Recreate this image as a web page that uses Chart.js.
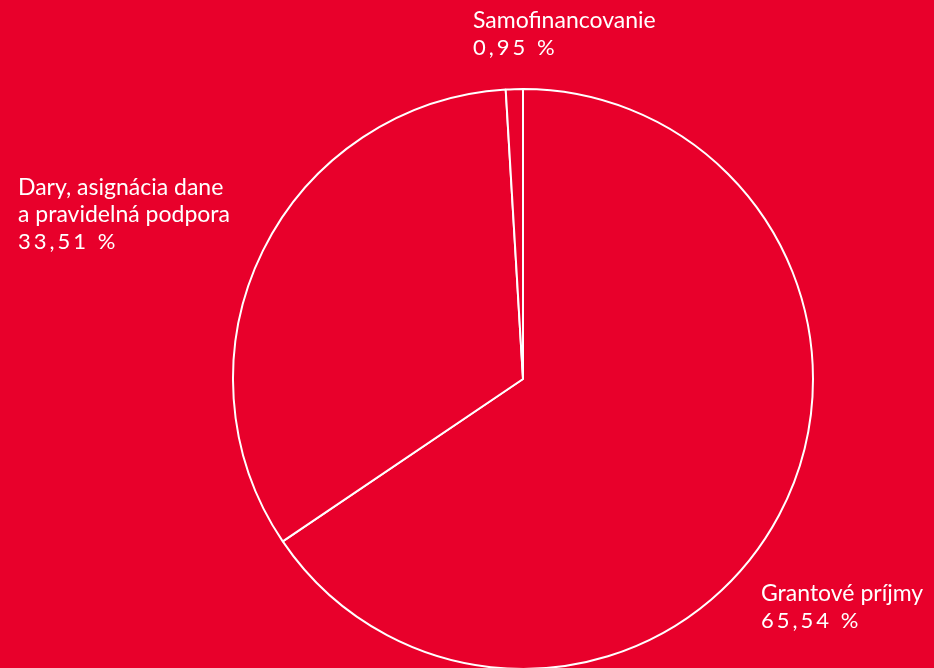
<!DOCTYPE html>
<html>
<head>
<meta charset="utf-8">
<script src="https://cdn.jsdelivr.net/npm/chart.js@4"></script>
<style>
  html, body { margin: 0; padding: 0; background: #E8002B; overflow: hidden; }
  #wrap { width: 934px; height: 700px; }
</style>
</head>
<body>
<div id="wrap"><canvas id="Chart" width="934" height="700"></canvas></div>
<script>
// data
const categories = ["Grantové príjmy", "Dary, asignácia dane|a pravidelná podpora", "Samofinancovanie"];
const values = [65.54, 33.51, 0.95];
const valueLabels = ["65,54 %", "33,51 %", "0,95 %"];
// where each label block starts (left x, first baseline y)
const labelPos = [[761, 601], [18, 195], [473, 28]];

const RED = "#E8002B";

// draws the white labels next to the slices
const labelPlugin = {
  id: "labels",
  afterDraw(c) {
    const ctx = c.ctx;
    ctx.save();
    ctx.fillStyle = "white";
    ctx.textBaseline = "alphabetic";
    categories.forEach((name, i) => {
      const [x, y] = labelPos[i];
      const lines = name.split("|");
      ctx.font = "23px Lato";
      ctx.letterSpacing = "0px";
      lines.forEach((l, j) => ctx.fillText(l, x, y + j * 27));
      ctx.font = "22px Lato";
      ctx.letterSpacing = "3px";
      ctx.fillText(valueLabels[i], x, y + lines.length * 27);
    });
    ctx.restore();
  },
};

const chart = new Chart(document.getElementById("Chart"), {
  type: "pie",
  data: {
    labels: categories,
    datasets: [
      {
        data: values,
        backgroundColor: RED,
        borderColor: "white",
        borderWidth: 2,
      },
    ],
  },
  options: {
    responsive: false,
    animation: false,
    layout: { padding: { left: 232, right: 120, top: 88, bottom: 30 } },
    plugins: {
      legend: { display: false },
      tooltip: { enabled: false },
    },
  },
  plugins: [labelPlugin],
});
</script>
</body>
</html>
